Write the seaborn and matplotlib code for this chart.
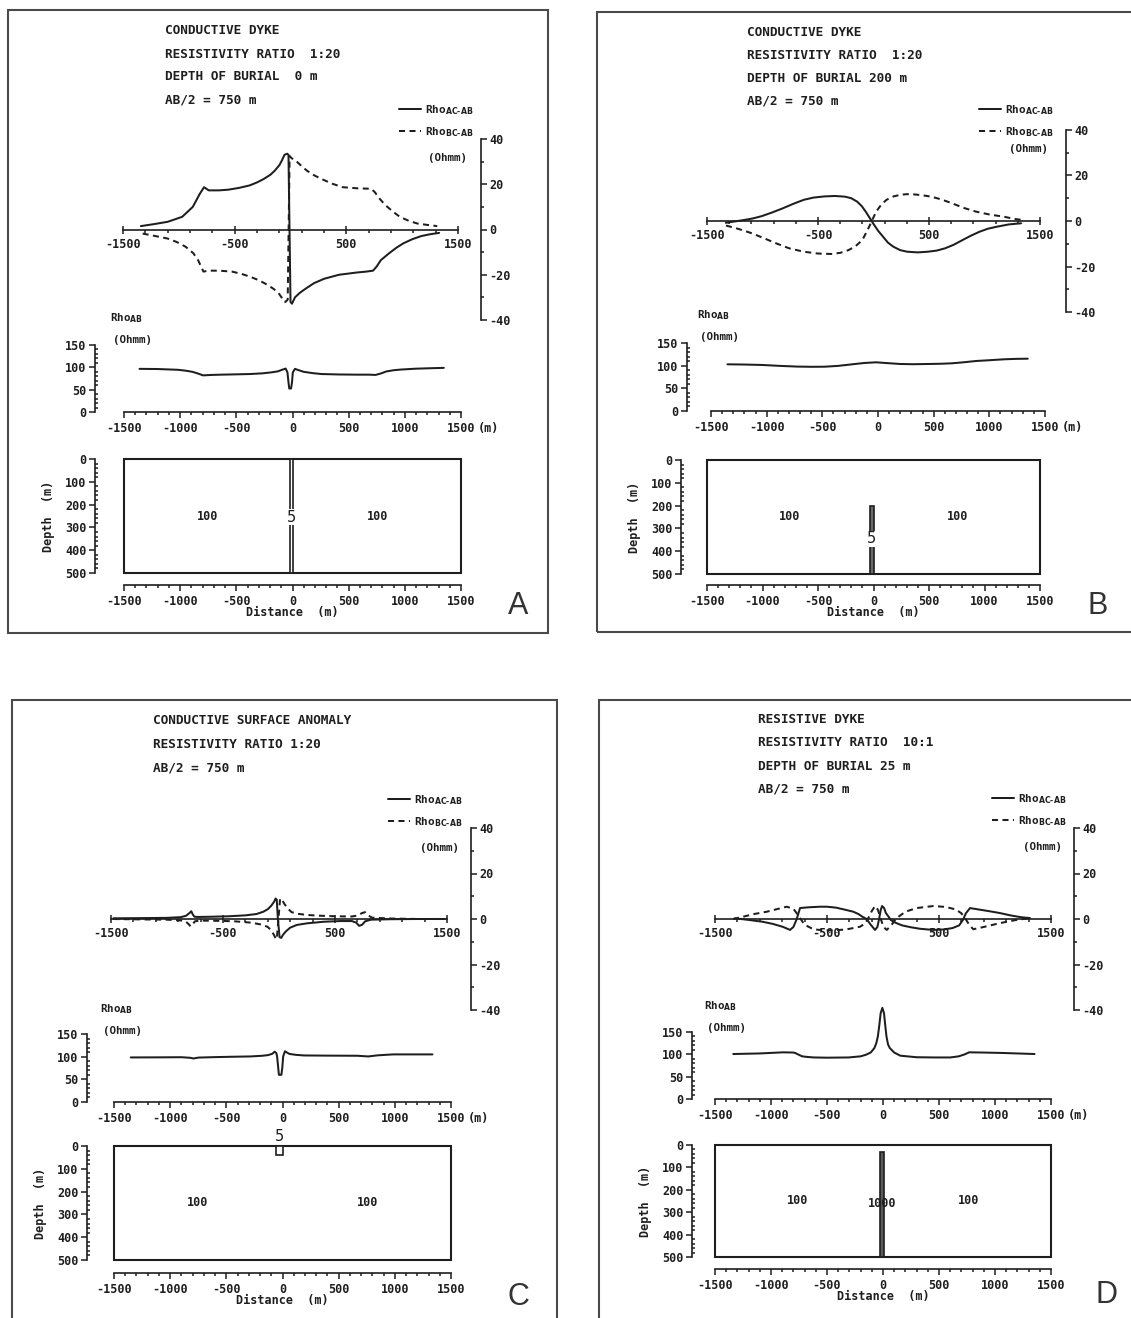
import numpy as np
import matplotlib
matplotlib.use("Agg")
import matplotlib.pyplot as plt
from matplotlib.patches import Rectangle
from matplotlib.ticker import MultipleLocator, FixedLocator
import seaborn as sns

# ---------------------------------------------------------------- data
# Panel A - conductive dyke, 1:20, depth of burial 0 m
a_ac_x = [-1340, -1220, -1100, -970, -875, -812, -774, -732, -640, -557, -460, -365, -300, -237, -180,
          -141, -100, -77, -54, -30, -18, 0, 13, 40, 83, 140, 211, 300, 435, 595, 680, 739, 771, 810,
          883, 950, 1011, 1090, 1171, 1250, 1331]
a_ac_rho = [1.5, 2.4, 3.4, 5.6, 10.0, 15.8, 18.7, 17.3, 17.3, 17.6, 18.4, 19.5, 20.8, 22.4, 24.2,
            26.0, 28.4, 30.5, 33.0, 33.5, 33.0, -32.0, -32.8, -30.0, -28.0, -26.0, -23.7, -21.8, -20.0,
            -19.0, -18.6, -18.2, -16.4, -13.5, -10.5, -8.0, -6.1, -4.3, -2.9, -2.1, -1.5]
a_bc_x = [-1324, -1220, -1100, -1020, -940, -870, -828, -795, -780, -732, -640, -525, -440, -365, -280,
          -205, -150, -109, -80, -61, -45, -25, -8, 10, 45, 100, 147, 210, 275, 370, 467, 600, 723, 755,
          800, 851, 920, 979, 1060, 1139, 1230, 1314]
a_bc_rho = [-1.8, -2.8, -4.0, -5.5, -7.6, -10.5, -13.5, -17.0, -18.6, -18.2, -18.2, -18.6, -19.6, -20.8,
            -22.5, -24.5, -26.3, -28.0, -30.0, -31.8, -32.0, -31.0, 32.5, 31.5, 30.5, 28.0, 26.0, 24.0,
            22.4, 20.3, 18.7, 18.2, 18.0, 16.5, 13.5, 10.7, 7.8, 5.6, 3.8, 2.6, 2.0, 1.5]
a_ab_x = [-1362, -1200, -1020, -950, -892, -840, -796, -720, -636, -500, -381, -270, -189, -130, -93,
          -61, -45, -35, -29, -13, -5, 3, 22, 50, 99, 180, 259, 420, 579, 680, 739, 790, 835, 900, 963,
          1100, 1230, 1347]
a_ab_rho = [96.6, 96.2, 94.5, 92.5, 90.0, 86.0, 82.0, 83.0, 83.6, 84.3, 85.0, 86.5, 88.7, 91.0, 94.5,
            97.3, 88.7, 65.0, 52.6, 52.6, 65.0, 88.7, 96.6, 94.0, 90.0, 87.0, 85.0, 84.0, 83.6, 83.6,
            83.0, 86.5, 90.8, 93.5, 95.0, 97.0, 98.0, 98.8]

# Panel B - conductive dyke, 1:20, depth of burial 200 m
b_ac_x = [-1330, -1250, -1158, -1080, -1003, -910, -816, -720, -629, -540, -443, -350, -256, -200, -147,
          -105, -70, -40, -8, 40, 86, 130, 179, 240, 303, 400, 490, 570, 645, 720, 801, 880, 956, 1030,
          1112, 1220, 1330]
b_ac_rho = [-0.8, -0.2, 0.5, 1.2, 2.2, 3.8, 5.6, 7.6, 9.3, 10.3, 10.8, 11.0, 10.7, 10.0, 8.5, 6.5, 4.1,
            1.8, -0.7, -4.2, -6.9, -9.5, -11.3, -12.8, -13.5, -13.8, -13.5, -13.0, -12.0, -10.5, -8.4,
            -6.4, -4.7, -3.4, -2.5, -1.5, -1.0]
b_bc_x = [-1329, -1250, -1170, -1096, -990, -878, -760, -629, -500, -381, -300, -225, -160, -101, -70,
          -39, -8, 24, 70, 117, 180, 241, 300, 366, 440, 521, 610, 707, 810, 925, 1050, 1174, 1260, 1345]
b_bc_rho = [-2.0, -3.0, -4.2, -5.4, -7.5, -9.8, -12.0, -13.5, -14.3, -14.5, -14.0, -12.8, -11.0, -8.4,
            -5.5, -2.5, 0.8, 4.1, 7.2, 9.3, 10.8, 11.5, 11.8, 11.7, 11.3, 10.7, 9.5, 7.8, 5.8, 4.1, 2.8,
            1.9, 1.0, 0.4]
b_ab_x = [-1352, -1200, -1036, -880, -727, -600, -480, -360, -232, -120, -16, 90, 201, 320, 448, 560,
          665, 770, 881, 1000, 1129, 1240, 1345]
b_ab_rho = [103.0, 102.5, 101.5, 99.5, 98.0, 97.5, 97.7, 99.5, 103.0, 106.0, 107.4, 105.5, 103.7, 103.2,
            103.7, 104.2, 105.2, 107.5, 110.3, 112.0, 114.0, 115.0, 115.4]

# Panel C - conductive surface anomaly, 1:20
c_ac_x = [-1480, -1200, -1000, -880, -830, -800, -783, -770, -755, -720, -600, -450, -300, -200, -140,
          -100, -70, -45, -30, -20, -10, 5, 20, 35, 60, 100, 160, 250, 400, 550, 650, 690, 715, 740, 770,
          820, 1000, 1250, 1480]
c_ac_rho = [0.3, 0.4, 0.5, 0.8, 1.4, 2.6, 3.4, 2.0, 1.0, 0.9, 1.0, 1.2, 1.6, 2.2, 3.2, 4.3, 5.8, 7.5,
            9.0, 8.5, 0.0, -8.0, -8.3, -7.0, -5.5, -3.8, -2.6, -1.9, -1.2, -0.9, -0.9, -1.6, -3.0, -2.6,
            -1.0, -0.3, -0.1, 0.0, 0.0]
c_bc_x = [-1480, -1200, -1000, -880, -830, -800, -790, -770, -750, -700, -550, -400, -250, -150, -100,
          -70, -45, -30, -20, -5, 10, 25, 50, 80, 113, 180, 250, 336, 500, 650, 710, 740, 768, 800, 830,
          1000, 1250, 1480]
c_bc_rho = [0.0, -0.2, -0.3, -0.6, -1.2, -2.6, -3.3, -2.2, -1.0, -0.7, -0.8, -1.0, -1.6, -2.5, -3.5,
            -5.0, -7.0, -8.5, -8.9, 0.0, 9.0, 8.5, 6.5, 4.5, 3.0, 2.2, 1.8, 1.5, 1.2, 1.1, 1.6, 2.6, 3.0,
            1.5, 0.6, 0.2, 0.0, 0.0]
c_ab_x = [-1351, -1100, -900, -820, -794, -747, -600, -450, -286, -180, -127, -90, -70, -55, -48, -38,
          -32, -10, -2, 6, 22, 40, 63, 120, 191, 400, 667, 763, 850, 985, 1150, 1335]
c_ab_rho = [98.3, 98.5, 98.8, 97.5, 96.0, 98.0, 99.0, 99.8, 100.5, 102.0, 103.5, 106.5, 111.0, 108.0,
            100.5, 75.0, 60.0, 60.0, 75.0, 100.5, 112.0, 109.0, 106.0, 104.0, 102.7, 102.3, 102.0, 100.5,
            103.0, 105.0, 105.0, 105.0]

# Panel D - resistive dyke, 10:1, depth of burial 25 m
d_ac_x = [-1322, -1200, -1076, -980, -891, -830, -800, -770, -741, -700, -645, -560, -503, -420, -340,
          -265, -220, -184, -146, -110, -71, -50, -35, -20, -8, 10, 26, 50, 71, 110, 170, 246, 330, 449,
          540, 620, 680, 714, 740, 777, 840, 953, 1045, 1137, 1230, 1312]
d_ac_rho = [0.3, -0.4, -1.2, -2.2, -3.5, -4.8, -3.5, 0.0, 4.8, 5.0, 5.2, 5.4, 5.4, 5.0, 4.1, 3.2, 2.2,
            1.0, 0.0, -2.5, -4.8, -3.5, 0.0, 4.0, 5.7, 4.8, 2.6, 1.0, -0.5, -1.6, -2.8, -3.6, -4.3, -4.8,
            -4.6, -4.0, -2.8, -0.4, 2.5, 4.8, 4.3, 3.4, 2.6, 1.6, 0.8, 0.4]
d_bc_x = [-1339, -1250, -1150, -1037, -950, -860, -800, -770, -741, -700, -622, -530, -443, -330, -205,
          -160, -131, -100, -71, -45, -20, 5, 33, 70, 122, 200, 300, 449, 560, 650, 700, 732, 770, 806,
          900, 1045, 1180, 1312]
d_bc_rho = [0.0, 1.0, 2.2, 3.2, 4.3, 5.4, 4.5, 2.5, 0.4, -2.5, -4.5, -5.0, -5.0, -4.6, -3.4, -2.0, 0.4,
            3.5, 5.7, 4.0, 0.0, -3.5, -4.8, -3.0, 0.4, 3.2, 4.8, 5.7, 5.3, 4.2, 2.5, 0.4, -2.5, -4.5,
            -3.5, -1.8, -0.5, 0.4]
d_ab_x = [-1337, -1100, -891, -800, -784, -760, -722, -670, -615, -500, -307, -200, -153, -110, -77, -60,
          -46, -33, -21, -6, 9, 20, 31, 45, 61, 100, 154, 300, 461, 600, 676, 730, 769, 900, 1076, 1353]
d_ab_rho = [100.7, 102.0, 104.5, 104.0, 103.0, 100.0, 95.5, 94.0, 93.0, 92.5, 93.0, 95.5, 99.0, 104.0,
            114.0, 125.0, 140.0, 165.0, 192.0, 204.0, 192.0, 165.0, 140.0, 122.0, 114.0, 104.0, 97.0,
            93.5, 93.0, 93.0, 95.5, 100.0, 104.5, 104.0, 103.0, 100.7]

# Model sections (distance in m, depth in m), one entry per panel A-D
section_x = [-1500, 1500]
section_depth = [0, 500]
dyke_left = [-25, -30, -55, -25]
dyke_right = [0, 0, 0, 5]
dyke_top = [0, 200, 0, 30]
dyke_base = [500, 500, 40, 500]
dyke_rho = ["5", "5", "5", "1000"]
host_rho = ["100", "100", "100", "100"]
host_label_x = [-760, 760]
host_label_depth = 250

# Text blocks
title_a = ["CONDUCTIVE DYKE", "RESISTIVITY RATIO  1:20", "DEPTH OF BURIAL  0 m", "AB/2 = 750 m"]
title_b = ["CONDUCTIVE DYKE", "RESISTIVITY RATIO  1:20", "DEPTH OF BURIAL 200 m", "AB/2 = 750 m"]
title_c = ["CONDUCTIVE SURFACE ANOMALY", "RESISTIVITY RATIO 1:20", "AB/2 = 750 m"]
title_d = ["RESISTIVE DYKE", "RESISTIVITY RATIO  10:1", "DEPTH OF BURIAL 25 m", "AB/2 = 750 m"]

top_xticks = [-1500, -500, 500, 1500]
top_yticks = [-40, -20, 0, 20, 40]
mid_yticks = [0, 50, 100, 150]
sec_yticks = [0, 100, 200, 300, 400, 500]
dist_xticks = [-1500, -1000, -500, 0, 500, 1000, 1500]

leg_ac = "Rho$_{\\rm AC\u2010AB}$"
leg_bc = "Rho$_{\\rm BC\u2010AB}$"

# ---------------------------------------------------------------- style
W, H, DPI = 1131, 1318, 100
PT = 72.0 / DPI
INK = "#1e1e1e"
LW = 1.45
DASH = (0, (3.0, 2.2))
MONO = "DejaVu Sans Mono"

sns.set_theme(style="ticks")
plt.rcParams.update({
    "font.family": [MONO, "DejaVu Sans"],
    "font.weight": "bold",
    "axes.unicode_minus": False,
    "mathtext.fontset": "dejavusans",
    "text.color": INK,
    "axes.edgecolor": INK,
    "axes.labelcolor": INK,
    "axes.labelweight": "bold",
    "xtick.color": INK,
    "ytick.color": INK,
    "axes.linewidth": 1.2,
    "savefig.facecolor": "white",
})

# positions in pixels: frame (l, t, r, b), axes boxes (l, r, t, b)
LAYOUT = {
    "A": dict(frame=(8, 10, 548, 633), title=(165, 31), dy=23.0,
              top=(123, 458, 139, 320), top_spine=481, legend=(399, 103), ohmm=(428, 158),
              mid=(124, 461, 345, 412), mid_spine=95, rho=(110, 318),
              sec=(124, 461, 459, 573), sec_spine=95, sec_axis=585, letter=(518, 606),
              dlabel=(-12, 255)),
    "B": dict(frame=(597, 12, 1150, 632), title=(747, 33), dy=22.7,
              top=(707, 1040, 130, 312), top_spine=1066, legend=(979, 103), ohmm=(1009, 149),
              mid=(711, 1045, 343, 411), mid_spine=687, rho=(697, 315),
              sec=(707, 1040, 460, 574), sec_spine=681, sec_axis=585, letter=(1098, 606),
              dlabel=(-15, 345)),
    "C": dict(frame=(12, 700, 557, 1340), title=(153, 721), dy=23.5,
              top=(111, 447, 828, 1010), top_spine=471, legend=(388, 793), ohmm=(420, 848),
              mid=(114, 451, 1034, 1102), mid_spine=87, rho=(100, 1009),
              sec=(114, 451, 1146, 1260), sec_spine=87, sec_axis=1273, letter=(518, 1297),
              dlabel=(-25, -40)),
    "D": dict(frame=(599, 700, 1150, 1340), title=(758, 720), dy=23.0,
              top=(715, 1051, 828, 1010), top_spine=1074, legend=(992, 792), ohmm=(1023, 847),
              mid=(715, 1051, 1032, 1099), mid_spine=692, rho=(704, 1006),
              sec=(715, 1051, 1145, 1257), sec_spine=692, sec_axis=1269, letter=(1106, 1295),
              dlabel=(-10, 262)),
}

PANEL_DATA = {
    "A": (title_a, a_ac_x, a_ac_rho, a_bc_x, a_bc_rho, a_ab_x, a_ab_rho),
    "B": (title_b, b_ac_x, b_ac_rho, b_bc_x, b_bc_rho, b_ab_x, b_ab_rho),
    "C": (title_c, c_ac_x, c_ac_rho, c_bc_x, c_bc_rho, c_ab_x, c_ab_rho),
    "D": (title_d, d_ac_x, d_ac_rho, d_bc_x, d_bc_rho, d_ab_x, d_ab_rho),
}
DYKE_FILL = {"A": "white", "B": "#6a6a6a", "C": "white", "D": "#5a5a5a"}


def px_box(l, r, t, b):
    return [l / W, 1 - b / H, (r - l) / W, (b - t) / H]


def fig_xy(x, y):
    return x / W, 1 - y / H


fig = plt.figure(figsize=(W / DPI, H / DPI), dpi=DPI)
fig.patch.set_facecolor("white")


def draw_profile_axes(L, ac_x, ac, bc_x, bc):
    l, r, t, b = L["top"]
    ax = fig.add_axes(px_box(l, r, t, b))
    ax.set_facecolor("none")
    sns.lineplot(x=ac_x, y=ac, ax=ax, color=INK, lw=LW, estimator=None, sort=False,
                 label=leg_ac, clip_on=False)
    sns.lineplot(x=bc_x, y=bc, ax=ax, color=INK, lw=LW, estimator=None, sort=False,
                 linestyle=DASH, label=leg_bc, clip_on=False)
    ax.set_xlim(-1500, 1500)
    ax.set_ylim(-40, 40)
    ax.spines[["left", "top"]].set_visible(False)
    ax.spines["bottom"].set_position(("data", 0))
    ax.spines["right"].set_position(("outward", (L["top_spine"] - r) * PT))
    ax.yaxis.tick_right()
    ax.set_yticks(top_yticks)
    ax.yaxis.set_minor_locator(MultipleLocator(10))
    ax.set_xticks(top_xticks)
    ax.xaxis.set_minor_locator(FixedLocator(np.arange(-1300, 1400, 200)))
    ax.tick_params(axis="x", which="major", direction="inout", length=6, width=1.1, pad=3,
                   labelsize=8.5)
    ax.tick_params(axis="x", which="minor", direction="out", length=2.5, width=1.1)
    ax.tick_params(axis="y", which="major", direction="out", length=4, width=1.1, pad=2,
                   labelsize=8.5)
    ax.tick_params(axis="y", which="minor", direction="out", length=2.5, width=1.1)
    ax.set_xlabel("")
    ax.set_ylabel("")
    ax.legend(loc="upper left", bbox_to_anchor=fig_xy(*L["legend"]),
              bbox_transform=fig.transFigure, frameon=False, fontsize=8, handlelength=2.0,
              handletextpad=0.3, labelspacing=0.75, borderpad=0, borderaxespad=0)
    fig.text(*fig_xy(*L["ohmm"]), "(Ohmm)", fontsize=7.8, ha="left", va="center")
    return ax


def dist_ticks(ax):
    ax.set_xlim(-1500, 1500)
    ax.set_xticks(dist_xticks)
    ax.xaxis.set_minor_locator(MultipleLocator(100))
    ax.tick_params(axis="x", which="major", direction="out", length=4.5, width=1.1, pad=2.5,
                   labelsize=8.5)
    ax.tick_params(axis="x", which="minor", direction="out", length=2.5, width=1.1)
    ax.tick_params(axis="y", which="major", direction="out", length=4, width=1.1, pad=2,
                   labelsize=8.5)
    ax.tick_params(axis="y", which="minor", direction="in", length=2.5, width=1.1)


def draw_apparent_axes(L, ab_x, ab):
    l, r, t, b = L["mid"]
    ax = fig.add_axes(px_box(l, r, t, b))
    ax.set_facecolor("none")
    sns.lineplot(x=ab_x, y=ab, ax=ax, color=INK, lw=LW, estimator=None, sort=False,
                 clip_on=False, legend=False)
    dist_ticks(ax)
    ax.set_ylim(0, 150)
    ax.set_yticks(mid_yticks)
    ax.yaxis.set_minor_locator(MultipleLocator(10))
    ax.spines[["top", "right"]].set_visible(False)
    ax.spines["left"].set_position(("outward", (l - L["mid_spine"]) * PT))
    ax.set_xlabel("")
    ax.set_ylabel("")
    ax.annotate("(m)", xy=(1500, 0), xycoords="data", xytext=(12, -7), textcoords="offset points",
                ha="left", va="top", fontsize=8.5)
    rx, ry = L["rho"]
    fig.text(*fig_xy(rx, ry), "Rho$_{\\rm AB}$", fontsize=7.8, ha="left", va="center")
    fig.text(*fig_xy(rx + 3, ry + 22), "(Ohmm)", fontsize=7.8, ha="left", va="center")
    return ax


def draw_section_axes(L, i, key):
    l, r, t, b = L["sec"]
    ax = fig.add_axes(px_box(l, r, t, b))
    ax.set_facecolor("none")
    dist_ticks(ax)
    ax.set_ylim(section_depth[1], section_depth[0])
    ax.set_yticks(sec_yticks)
    ax.yaxis.set_minor_locator(MultipleLocator(20))
    ax.spines[["top", "right"]].set_visible(False)
    ax.spines["left"].set_position(("outward", (l - L["sec_spine"]) * PT))
    ax.spines["bottom"].set_position(("outward", (L["sec_axis"] - b) * PT))
    ax.add_patch(Rectangle((section_x[0], section_depth[0]), section_x[1] - section_x[0],
                           section_depth[1] - section_depth[0], fill=False, ec=INK, lw=1.5,
                           clip_on=False, zorder=2))
    ax.add_patch(Rectangle((dyke_left[i], dyke_top[i]), dyke_right[i] - dyke_left[i],
                           dyke_base[i] - dyke_top[i], fc=DYKE_FILL[key], ec=INK, lw=1.2,
                           clip_on=False, zorder=3))
    for hx in host_label_x:
        ax.text(hx, host_label_depth, host_rho[i], ha="center", va="center", fontsize=8.5)
    dx, dd = L["dlabel"]
    if key in ("A", "B"):
        ax.text(dx, dd, dyke_rho[i], ha="center", va="center", fontsize=11, zorder=4,
                fontweight="normal", bbox=dict(fc="white", ec="none", pad=0.4))
    else:
        ax.text(dx, dd, dyke_rho[i], ha="center", va="center",
                fontsize=11 if key == "C" else 8.5, zorder=4, clip_on=False,
                fontweight="normal" if key == "C" else "bold")
    ax.set_xlabel("Distance  (m)", fontsize=8.5)
    ax.set_ylabel("Depth  (m)", fontsize=8.5)
    ax.xaxis.set_label_coords(0.5, -(L["sec_axis"] - b + 21) / (b - t))
    ax.yaxis.set_label_coords(-(l - L["sec_spine"] + 40) / (r - l), 0.5)
    return ax


for i, key in enumerate(["A", "B", "C", "D"]):
    L = LAYOUT[key]
    title, ac_x, ac, bc_x, bc, ab_x, ab = PANEL_DATA[key]

    fl, ft, fr, fb = L["frame"]
    fig.add_artist(Rectangle((fl / W, 1 - fb / H), (fr - fl) / W, (fb - ft) / H,
                             transform=fig.transFigure, fill=False, ec="#4a4a4a", lw=1.5))
    tx, ty = L["title"]
    for k, line in enumerate(title):
        fig.text(*fig_xy(tx, ty + k * L["dy"]), line, fontsize=9.2, ha="left", va="center")

    draw_profile_axes(L, ac_x, ac, bc_x, bc)
    draw_apparent_axes(L, ab_x, ab)
    draw_section_axes(L, i, key)

    lx, ly = L["letter"]
    fig.text(*fig_xy(lx, ly), key, fontsize=22, family="Liberation Sans", fontweight="normal",
             color="#333333", ha="center", va="center")

fig.savefig("out.png", dpi=DPI, facecolor="white")
